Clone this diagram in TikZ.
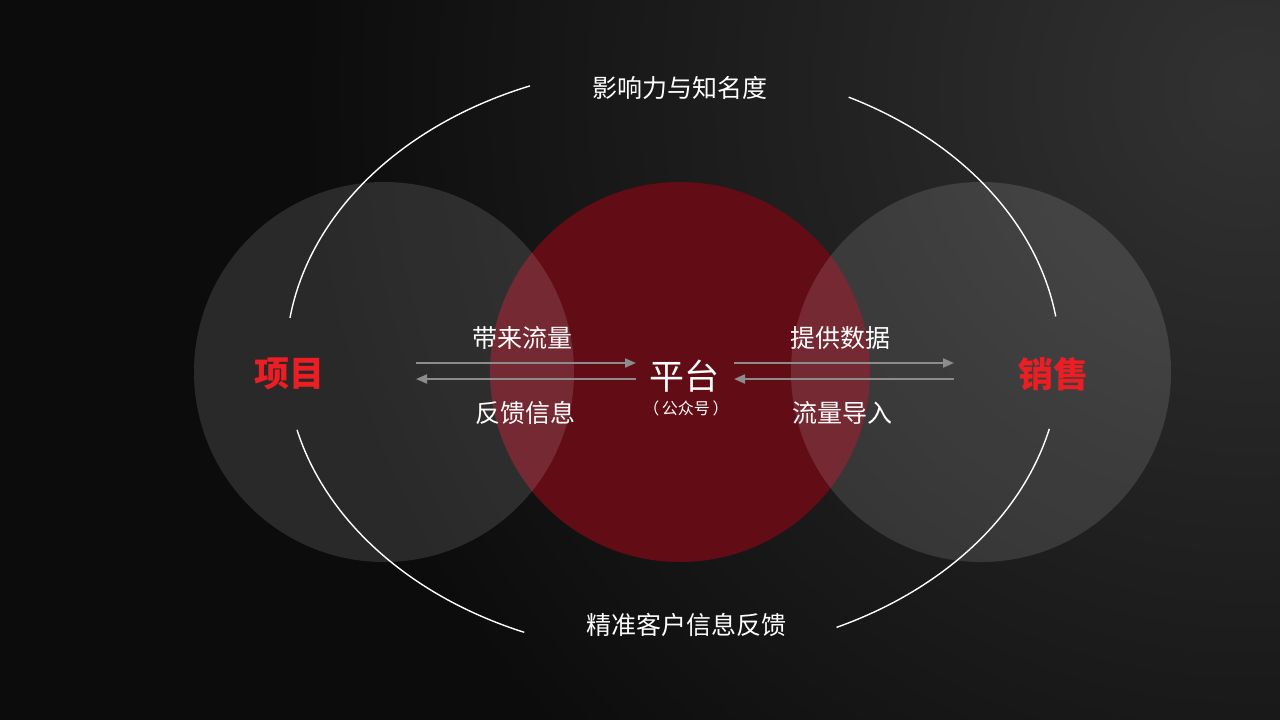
\documentclass[tikz,border=0pt]{standalone}
\usepackage{fontspec}
\newfontfamily\cjk{Noto Sans CJK SC}
\usetikzlibrary{arrows.meta}
\definecolor{bgdark}{RGB}{12,12,12}
\definecolor{bglight}{RGB}{50,50,50}
\definecolor{platred}{RGB}{98,12,22}
\definecolor{arrgray}{RGB}{140,140,140}
\definecolor{keyred}{RGB}{235,30,35}
\tikzset{
  softcircle/.style={fill=white,fill opacity=0.12,draw=none},
  redcircle/.style={fill=platred,draw=none},
  arc line/.style={draw=white,line width=1.4pt},
  flowarrow/.style={draw=arrgray,line width=2pt,-{Triangle[length=11pt,width=9pt]}},
  lbl/.style={text=white,font=\cjk\fontsize{25}{28}\selectfont,inner sep=0pt},
  keylbl/.style={text=keyred,font=\cjk\bfseries\fontsize{35}{38}\selectfont,inner sep=0pt},
  hublbl/.style={text=white,font=\cjk\fontsize{35}{38}\selectfont,inner sep=0pt},
  sublbl/.style={text=white,font=\cjk\fontsize{16}{18}\selectfont,inner sep=0pt},
}
\begin{document}
\begin{tikzpicture}[x=1pt,y=-1pt]
\useasboundingbox (0,0) rectangle (1280,720);
% background
\begin{scope}
  \clip (0,0) rectangle (1280,720);
  \fill[bgdark] (0,0) rectangle (1280,720);
  \shade[inner color=bglight,outer color=bgdark] (1250,90) circle[radius=950];
\end{scope}
% circles
\fill[redcircle] (680,372) circle[radius=190];
\fill[softcircle] (384,372) circle[radius=190];
\fill[softcircle] (981,372) circle[radius=190];
% large ellipse arcs
\coordinate (ec) at (673,360);
\draw[arc line] (ec) ++(-111.7:387 and 295) arc[start angle=-111.7,end angle=-171.8,x radius=387,y radius=295];
\draw[arc line] (ec) ++(-8.5:387 and 295) arc[start angle=-8.5,end angle=-63,x radius=387,y radius=295];
\draw[arc line] (ec) ++(-193.7:387 and 295) arc[start angle=-193.7,end angle=-247.4,x radius=387,y radius=295];
\draw[arc line] (ec) ++(-295:387 and 295) arc[start angle=-295,end angle=-346.5,x radius=387,y radius=295];
% labels
\node[lbl] (top) at (680,88) {影响力与知名度};
\node[lbl] (bottom) at (686,625) {精准客户信息反馈};
\node[keylbl] (proj) at (289,374) {项目};
\node[keylbl] (sales) at (1053,374) {销售};
\node[hublbl] (hub) at (684,376) {平台};
\node[sublbl] (hubsub) at (686,408) {（\,公众号\,）};
\node[lbl] (l1) at (522,338) {带来流量};
\node[lbl] (l2) at (525,413) {反馈信息};
\node[lbl] (r1) at (840,338) {提供数据};
\node[lbl] (r2) at (842,413) {流量导入};
% arrow anchors
\coordinate (pa) at (416,363);
\coordinate (pb) at (636,363);
\coordinate (pc) at (636,379);
\coordinate (pd) at (416,379);
\coordinate (sa) at (734,363);
\coordinate (sb) at (954,363);
\coordinate (sc) at (954,379);
\coordinate (sd) at (734,379);
\draw[flowarrow] (pa) -- (pb);
\draw[flowarrow] (pc) -- (pd);
\draw[flowarrow] (sa) -- (sb);
\draw[flowarrow] (sc) -- (sd);
\end{tikzpicture}
\end{document}
